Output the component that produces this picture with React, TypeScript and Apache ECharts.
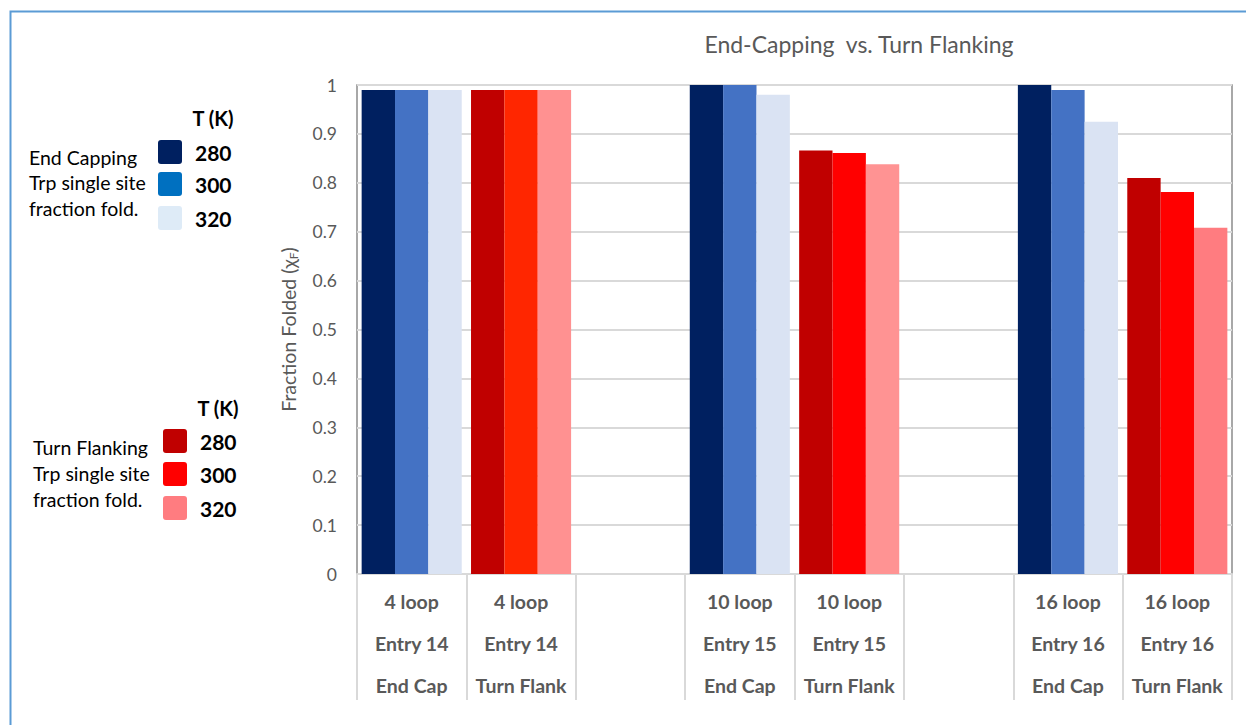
import React, { useEffect, useRef } from "react";
import * as echarts from "echarts";

const categories = [
  "4 loop\nEntry 14\nEnd Cap",
  "4 loop\nEntry 14\nTurn Flank",
  "",
  "10 loop\nEntry 15\nEnd Cap",
  "10 loop\nEntry 15\nTurn Flank",
  "",
  "16 loop\nEntry 16\nEnd Cap",
  "16 loop\nEntry 16\nTurn Flank",
];
const t280 = [0.99, 0.99, null, 1.0, 0.866, null, 1.0, 0.81];
const t300 = [0.99, 0.99, null, 1.0, 0.861, null, 0.99, 0.781];
const t320 = [0.99, 0.99, null, 0.98, 0.838, null, 0.925, 0.708];

const c280 = ["#002060", "#C00000", "#002060", "#002060", "#C00000", "#002060", "#002060", "#C00000"];
const c300 = ["#4472C4", "#FF2600", "#4472C4", "#4472C4", "#FF0000", "#4472C4", "#4472C4", "#FF0000"];
const c320 = ["#DAE3F3", "#FF9191", "#DAE3F3", "#DAE3F3", "#FF9393", "#DAE3F3", "#DAE3F3", "#FF7C80"];

const yTicks = [0, 0.1, 0.2, 0.3, 0.4, 0.5, 0.6, 0.7, 0.8, 0.9, 1];
const tempLabels = ["280", "300", "320"];
const endCapLegendColors = ["#002060", "#0070C0", "#DEEBF7"];
const turnFlankLegendColors = ["#C00000", "#FF0000", "#FF7C80"];

const FONT = "Lato, 'Open Sans', sans-serif";

function makeData(vals: (number | null)[], colors: string[]) {
  return vals.map((v, i) => (v == null ? "-" : { value: v, itemStyle: { color: colors[i] } }));
}

function legendBlock(
  headY: number,
  boxX: number,
  boxYs: number[],
  colors: string[],
  descX: number,
  descYs: number[],
  desc: string[]
) {
  const els: any[] = [];
  els.push({
    type: "text",
    x: boxX + 55,
    y: headY,
    style: { text: "T (K)", font: `bold 20px ${FONT}`, fill: "#000", align: "center", verticalAlign: "middle" },
  });
  colors.forEach((c, i) => {
    els.push({
      type: "rect",
      shape: { x: boxX, y: boxYs[i], width: 24, height: 24, r: 3 },
      style: { fill: c },
    });
    els.push({
      type: "text",
      x: boxX + 37,
      y: boxYs[i] + 12,
      style: { text: tempLabels[i], font: `bold 21px ${FONT}`, fill: "#000", align: "left", verticalAlign: "middle" },
    });
  });
  desc.forEach((d, i) => {
    els.push({
      type: "text",
      x: descX,
      y: descYs[i],
      style: { text: d, font: `19.5px ${FONT}`, fill: "#000", align: "left", verticalAlign: "middle" },
    });
  });
  return els;
}

export default function App() {
  const ref = useRef<HTMLDivElement>(null);
  useEffect(() => {
    document.body.style.margin = "0";
    const chart = echarts.init(ref.current!, null, { renderer: "svg" });
    const graphics: any[] = [
      {
        type: "polyline",
        shape: { points: [[10.5, 760], [10.5, 11.5], [1260, 11.5]] },
        style: { stroke: "#5B9BD5", lineWidth: 2, fill: "none" },
      },
      {
        type: "text",
        x: 859,
        y: 44,
        style: { text: "End-Capping  vs. Turn Flanking", font: `23px ${FONT}`, fill: "#595959", align: "center", verticalAlign: "middle" },
      },
      ...legendBlock(118, 158, [140, 172, 206], endCapLegendColors, 29, [157, 182, 208], ["End Capping", "Trp single site", "fraction fold."]),
      ...legendBlock(408, 163, [429, 462, 496], turnFlankLegendColors, 33, [447, 473, 499], ["Turn Flanking", "Trp single site", "fraction fold."]),
    ];
    chart.setOption({
      animation: false,
      textStyle: { fontFamily: FONT },
      grid: {
        left: 357,
        top: 85,
        right: 14,
        bottom: 151,
        show: true,
        borderColor: "#8C8C8C",
        borderWidth: 1.5,
        backgroundColor: "transparent",
      },
      xAxis: {
        type: "category",
        data: categories,
        axisLine: { show: true, lineStyle: { color: "#D9D9D9", width: 2 } },
        axisTick: { show: true, interval: 0, length: 126, lineStyle: { color: "#D9D9D9", width: 2 } },
        axisLabel: {
          interval: 0,
          margin: 6,
          color: "#595959",
          fontSize: 19.5,
          fontWeight: "bold",
          lineHeight: 42,
          fontFamily: FONT,
        },
      },
      yAxis: {
        type: "value",
        min: 0,
        max: 1,
        interval: 0.1,
        name: "{a|Fraction Folded (χ}{b|F}{a|)}",
        nameLocation: "middle",
        nameGap: 58,
        nameRotate: 90,
        nameTextStyle: {
          fontSize: 19.5,
          color: "#595959",
          rich: {
            a: { fontSize: 19.5, color: "#595959", fontFamily: FONT },
            b: { fontSize: 12, color: "#595959", fontFamily: FONT, padding: [9, 0, 0, 0] },
          },
        },
        axisLine: { show: false },
        axisTick: { show: false },
        axisLabel: {
          margin: 20,
          color: "#595959",
          fontSize: 17.5,
          fontFamily: FONT,
          formatter: (v: number) => {
            const t = yTicks.find((k) => Math.abs(k - v) < 1e-6);
            return String(t ?? +v.toFixed(1));
          },
        },
        splitLine: { lineStyle: { color: "#D9D9D9", width: 2 } },
      },
      series: [
        { type: "bar", name: "280", data: makeData(t280, c280), barGap: "0%", barCategoryGap: "8.5%" },
        { type: "bar", name: "300", data: makeData(t300, c300), barGap: "0%", barCategoryGap: "8.5%" },
        { type: "bar", name: "320", data: makeData(t320, c320), barGap: "0%", barCategoryGap: "8.5%" },
      ],
      graphic: graphics,
    });
    return () => chart.dispose();
  }, []);
  return <div ref={ref} style={{ width: 1246, height: 725 }} />;
}
